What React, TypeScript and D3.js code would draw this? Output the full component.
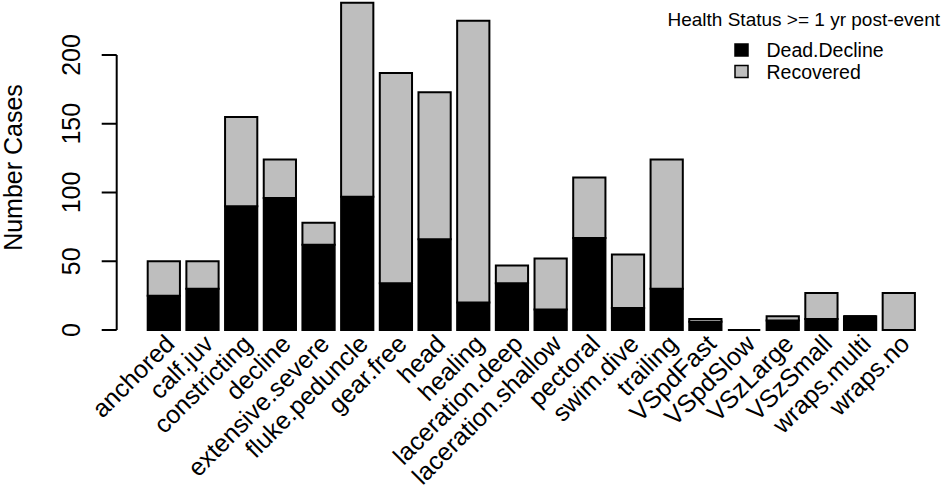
import React from "react";
import * as d3 from "d3";

const categories = [
  "anchored", "calf.juv", "constricting", "decline", "extensive.severe",
  "fluke.peduncle", "gear.free", "head", "healing", "laceration.deep",
  "laceration.shallow", "pectoral", "swim.dive", "trailing", "VSpdFast",
  "VSpdSlow", "VSzLarge", "VSzSmall", "wraps.multi", "wraps.no",
];
const deadDecline = [25, 30, 90, 96, 62, 97, 34, 66, 20, 34, 15, 67, 16, 30, 6, 0, 7, 8, 10, 0];
const recovered = [25, 20, 65, 28, 16, 141, 153, 107, 205, 13, 37, 44, 39, 94, 2, 0, 3, 19, 0, 27];
const seriesNames = ["Dead.Decline", "Recovered"];
const seriesColors = ["#000000", "#BEBEBE"];
const yTicks = [0, 50, 100, 150, 200];

const W = 945;
const H = 489;
const FONT = "'Liberation Sans', Arial, sans-serif";

const App: React.FC = () => {
  const rows = categories.map((c, i) => ({
    cat: c,
    "Dead.Decline": deadDecline[i],
    Recovered: recovered[i],
  }));
  const stacked = d3.stack<any>().keys(seriesNames)(rows);

  const x = d3
    .scaleBand()
    .domain(categories)
    .range([147.7, 914.9])
    .paddingInner(1 / 6)
    .paddingOuter(0);

  // 0 at y=330, 200 at y=55
  const y = d3.scaleLinear().domain([0, 200]).range([330, 55]);

  const bw = x.bandwidth();

  return (
    <svg
      width={W}
      height={H}
      style={{ position: "absolute", left: 0, top: 0, background: "#fff" }}
      fontFamily={FONT}
    >
      {/* bars */}
      {stacked.map((s, si) => (
        <g key={s.key}>
          {s.map((d, i) => {
            const x0 = x(categories[i]) as number;
            const yTop = y(d[1]);
            const yBot = y(d[0]);
            return (
              <path
                key={i}
                d={`M${x0},${yBot}H${x0 + bw}V${yTop}H${x0}Z`}
                fill={seriesColors[si]}
                stroke="#000"
                strokeWidth={2}
              />
            );
          })}
        </g>
      ))}

      {/* y axis */}
      <g>
        <line x1={116.7} x2={116.7} y1={y(0)} y2={y(200)} stroke="#000" strokeWidth={2} />
        {yTicks.map((t) => (
          <g key={t}>
            <line x1={101.7} x2={116.7} y1={y(t)} y2={y(t)} stroke="#000" strokeWidth={2} />
            <text
              transform={`translate(80,${y(t)}) rotate(-90)`}
              textAnchor="middle"
              fontSize={25}
            >
              {t}
            </text>
          </g>
        ))}
        <text
          transform={`translate(22,167.5) rotate(-90)`}
          textAnchor="middle"
          fontSize={25}
        >
          Number Cases
        </text>
      </g>

      {/* x labels */}
      {categories.map((c) => (
        <text
          key={c}
          transform={`translate(${(x(c) as number) + bw / 2 + 6},339) rotate(-45)`}
          textAnchor="end"
          dominantBaseline="central"
          fontSize={25}
        >
          {c}
        </text>
      ))}

      {/* legend */}
      <g>
        <text x={940} y={26} textAnchor="end" fontSize={19}>
          Health Status &gt;= 1 yr post-event
        </text>
        {seriesNames.map((n, i) => (
          <g key={n} transform={`translate(0,${i * 21.5})`}>
            <rect x={735} y={44} width={13} height={12} fill={seriesColors[i]} stroke="#000" strokeWidth={1.5} />
            <text x={766.5} y={57} fontSize={19.5}>
              {n}
            </text>
          </g>
        ))}
      </g>
    </svg>
  );
};

export default App;
